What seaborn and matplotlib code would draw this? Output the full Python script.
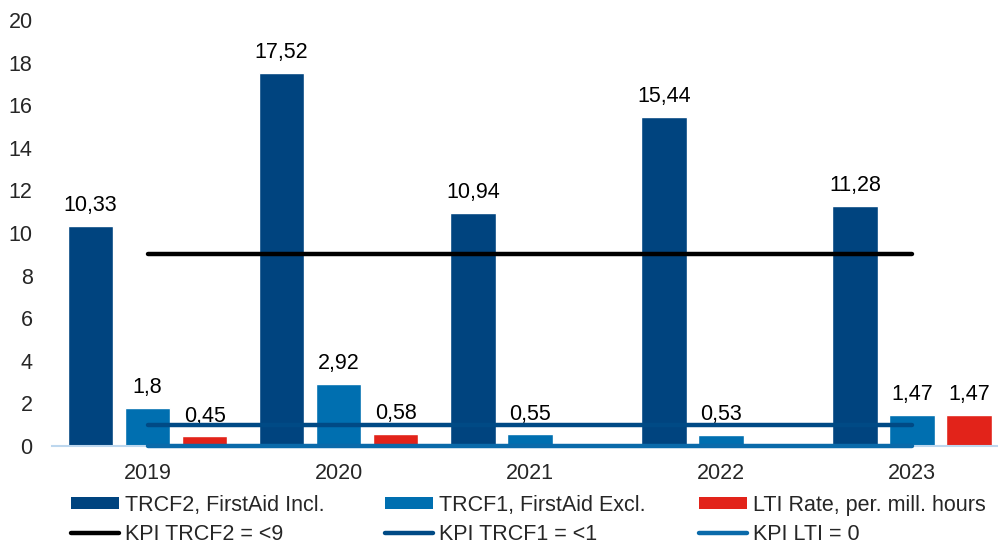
import numpy as np
import pandas as pd
import matplotlib
matplotlib.use("Agg")
import matplotlib.pyplot as plt
import seaborn as sns
from matplotlib.patches import Patch
from matplotlib.lines import Line2D
from matplotlib.container import BarContainer

years = ["2019", "2020", "2021", "2022", "2023"]
trcf2 = [10.33, 17.52, 10.94, 15.44, 11.28]
trcf1 = [1.8, 2.92, 0.55, 0.53, 1.47]
lti = [0.45, 0.58, np.nan, np.nan, 1.47]
kpi_trcf2 = [9, 9, 9, 9, 9]
kpi_trcf1 = [1, 1, 1, 1, 1]
kpi_lti = [0, 0, 0, 0, 0]
series_names = ["TRCF2, FirstAid Incl.", "TRCF1, FirstAid Excl.", "LTI Rate, per. mill. hours"]
kpi_names = ["KPI TRCF2 = <9", "KPI TRCF1 = <1", "KPI LTI = 0"]
yticks = [0, 2, 4, 6, 8, 10, 12, 14, 16, 18, 20]

bar_colors = ["#00447f", "#006fb0", "#e2231a"]
kpi_colors = ["#000000", "#004a85", "#0a6aaa"]

sns.set_theme(style="white")
plt.rcParams["font.family"] = ["Liberation Sans", "DejaVu Sans"]

df = pd.DataFrame({
    "year": years * 3,
    "series": [series_names[0]] * 5 + [series_names[1]] * 5 + [series_names[2]] * 5,
    "value": trcf2 + trcf1 + lti,
})

fig = plt.figure(figsize=(9.98, 5.44), dpi=100)
ax = fig.add_axes([52 / 998, (544 - 446) / 544, 1 - 52 / 998, 426 / 544])

sns.barplot(data=df, x="year", y="value", hue="series", order=years,
            hue_order=series_names, palette=bar_colors, width=0.895, gap=0.2,
            saturation=1, legend=False, ax=ax, errorbar=None)

fs = 15.5
for cont in ax.containers:
    if not isinstance(cont, BarContainer):
        continue
    for p in cont.patches:
        if p is None:
            continue
        h = p.get_height()
        if h is None or np.isnan(h) or h == 0:
            continue
        ax.annotate(f"{h:g}".replace(".", ","), (p.get_x() + p.get_width() / 2, h),
                    xytext=(0, 7), textcoords="offset points", ha="center", va="bottom",
                    fontsize=fs, color="black")

xs = np.arange(len(years))
for vals, c in zip([kpi_trcf2, kpi_trcf1, kpi_lti], kpi_colors):
    ax.plot(xs, vals, color=c, lw=3.2, solid_capstyle="round", zorder=5, clip_on=False)

ax.set_xlim(-0.5, 4.45)
ax.set_ylim(0, 20)
ax.set_yticks(yticks)
ax.set_yticklabels([str(t) for t in yticks], fontsize=fs)
ax.tick_params(axis="y", length=0, pad=14)
ax.tick_params(axis="x", length=0, pad=12, labelsize=fs)
ax.set_xlabel("")
ax.set_ylabel("")
for s in ["top", "right", "left"]:
    ax.spines[s].set_visible(False)
ax.spines["bottom"].set_color("#bdd7ee")
ax.spines["bottom"].set_linewidth(1.5)

col_x = [71, 385, 699]
for i in range(3):
    hs = [Patch(facecolor=bar_colors[i], edgecolor="none", label=series_names[i]),
          Line2D([0], [0], color=kpi_colors[i], lw=3.2, solid_capstyle="round", label=kpi_names[i])]
    leg = fig.legend(handles=hs, ncol=1, loc="upper left",
                     bbox_to_anchor=(col_x[i] / 998, (544 - 495) / 544),
                     frameon=False, fontsize=fs, handlelength=2.22, handleheight=0.5,
                     handletextpad=0.29, labelspacing=0.38, borderaxespad=0, borderpad=0)

fig.savefig("out.png", dpi=100)
